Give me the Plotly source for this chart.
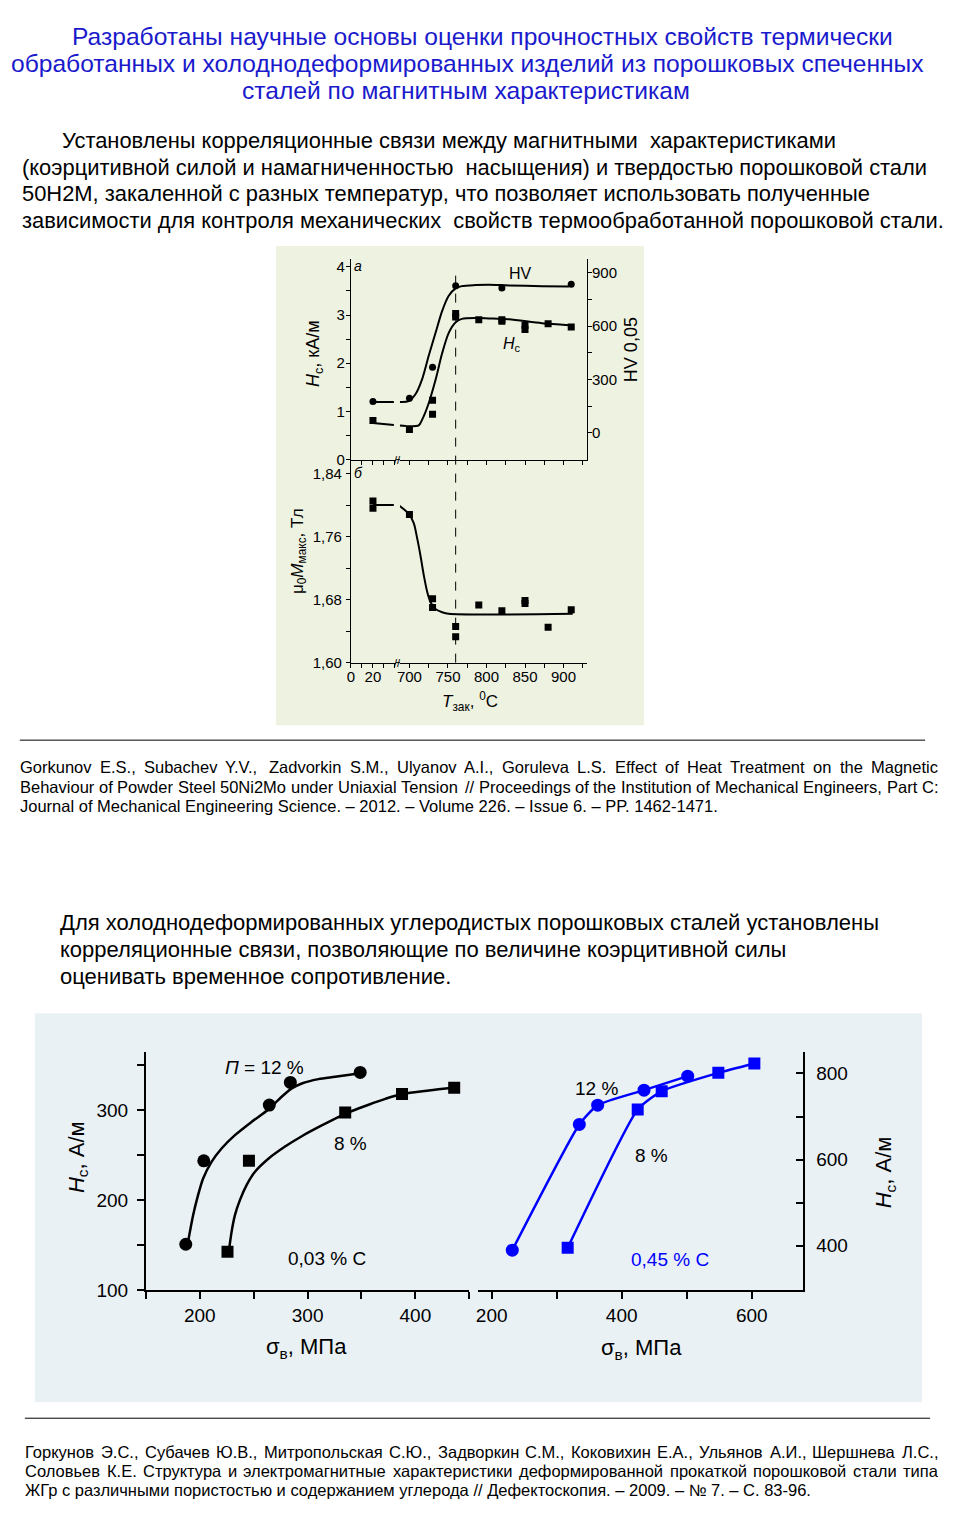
import plotly.graph_objects as go

# The page photo shows the figure offset by the body margin and slightly
# shrunk; page pixel p is mapped to figure pixels to compensate.
FW, FH = 948, 1519
SX, OX = 0.9955, 12.2
SY, OY = 0.992, 9.0
def X(p): return (p / SX - OX) / FW
def Y(p): return 1 - (p / SY - OY) / FH

FONT = "Liberation Sans, Arial, sans-serif"
BLUE = "#0000FF"

# ---------------- Chart a : Hc and HV vs quenching temperature ----------------
T_hv = [20, 700, 730, 760, 820, 910]
HV = [176, 195, 369, 827, 814, 836]
T_hc = [20, 700, 730, 730, 760, 760, 790, 820, 820, 850, 850, 880, 910]
HC = [0.81, 0.625, 1.23, 0.94, 3.03, 2.96, 2.90, 2.90, 2.87, 2.79, 2.70, 2.82, 2.75]
T_hv_fit = [20, 39, 687, 699, 708, 716.5, 725, 734, 742.5, 751, 760, 768, 786, 803, 829, 872, 907]
HV_fit = [174, 174, 174, 178, 218, 302, 433, 564, 686, 771, 812, 825, 831, 833, 829, 825, 823]
T_hc_fit = [20, 39, 687, 712, 716.5, 725, 734, 742.5, 751, 760, 768, 786, 803, 829, 872, 907]
HC_fit = [0.76, 0.72, 0.71, 0.71, 0.83, 1.17, 1.66, 2.21, 2.63, 2.85, 2.92, 2.94, 2.93, 2.91, 2.83, 2.79]

# ---------------- Chart b : saturation magnetization ----------------
T_m = [20, 20, 700, 730, 730, 760, 760, 790, 820, 850, 850, 880, 910]
M = [1.805, 1.796, 1.788, 1.681, 1.670, 1.646, 1.633, 1.673, 1.666, 1.679, 1.675, 1.645, 1.667]
T_m_fit = [20, 39, 687, 699, 705.6, 710, 714.3, 718.6, 723, 727.3, 733.8, 742.5, 751, 912]
M_fit = [1.800, 1.800, 1.799, 1.789, 1.777, 1.758, 1.736, 1.711, 1.690, 1.677, 1.668, 1.664, 1.662, 1.662]

T_low_ticks, T_low_labels, T_low_minor = [0, 20], ["0", "20"], [10, 30, 40]
T_high_ticks = [700, 750, 800, 850, 900]
T_high_labels = ["700", "750", "800", "850", "900"]
T_high_minor = [725, 775, 825, 875, 925]
HC_ticks, HC_labels, HC_minor = [0, 1, 2, 3, 4], ["0", "1", "2", "3", "4"], [0.5, 1.5, 2.5, 3.5]
HV_ticks, HV_labels, HV_minor = [0, 300, 600, 900], ["0", "300", "600", "900"], [150, 450, 750]
M_ticks = [1.60, 1.68, 1.76, 1.84]
M_labels = ["1,60", "1,68", "1,76", "1,84"]
M_minor = [1.64, 1.72, 1.80]

# ---------------- Bottom left : 0.03 % C ----------------
s12_c = [187, 203.7, 264.5, 284, 348.8]
h12_c = [151, 243.7, 305.6, 330.7, 341.9]
s8_c = [225.7, 245.6, 334.9, 387.6, 436]
h8_c = [142.6, 243.7, 297.4, 317.8, 324.8]
s12_c_fit = [189.1, 193.8, 198.4, 203.1, 210.9, 220.2, 232.6, 248.1, 263.6, 276, 285.3, 294.6, 310, 325.6, 347.3]
h12_c_fit = [153.7, 183.3, 205.6, 224.1, 242.6, 257.4, 272.2, 287, 300.7, 314.8, 324.1, 329.6, 334.4, 337, 340.7]
s8_c_fit = [227.3, 229.5, 232.6, 237.2, 243.4, 251.2, 263.6, 279.1, 294.6, 310, 325.6, 341.1, 356.6, 372.1, 387.6, 412.4, 436]
h8_c_fit = [146.3, 164.8, 183.3, 200, 216.7, 231.5, 246, 259.5, 271, 281, 290.5, 299, 306, 312.5, 317.8, 321.8, 324.8]

# ---------------- Bottom right : 0.45 % C ----------------
s12_45 = [231.7, 334.8, 363, 434.3, 501.5]
h12_45 = [390, 681.7, 726.5, 761.3, 793.8]
s8_45 = [316.9, 424.6, 461.5, 548.6, 604]
h8_45 = [395.4, 716.5, 758.9, 801.4, 823.2]

L_xticks, L_xlabels, L_xminor = [200, 300, 400], ["200", "300", "400"], [150, 250, 350, 450]
L_yticks, L_ylabels, L_yminor = [100, 200, 300], ["100", "200", "300"], [150, 250, 350]
R_xticks, R_xlabels, R_xminor = [200, 400, 600], ["200", "400", "600"], [300, 500]
R_yticks, R_ylabels, R_yminor = [400, 600, 800], ["400", "600", "800"], [500, 700]


def split(xs, ys, lim=100):
    lo = [(a, b) for a, b in zip(xs, ys) if a < lim]
    hi = [(a, b) for a, b in zip(xs, ys) if a >= lim]
    return ([a for a, _ in lo], [b for _, b in lo]), ([a for a, _ in hi], [b for _, b in hi])


fig = go.Figure()

def line_tr(x, y, xa, ya, color="black", width=2, shape="spline", smooth=0.8):
    fig.add_trace(go.Scatter(x=x, y=y, xaxis=xa, yaxis=ya, mode="lines",
                             line=dict(color=color, width=width, shape=shape, smoothing=smooth),
                             hoverinfo="skip", showlegend=False))

def mark_tr(x, y, xa, ya, symbol, size, color="black"):
    fig.add_trace(go.Scatter(x=x, y=y, xaxis=xa, yaxis=ya, mode="markers",
                             marker=dict(symbol=symbol, size=size, color=color, line=dict(width=0)),
                             showlegend=False))

# chart a
(lo, hi) = split(T_hv_fit, HV_fit)
line_tr(*lo, "x", "y2"); line_tr(*hi, "x2", "y2")
(lo, hi) = split(T_hc_fit, HC_fit)
line_tr(*lo, "x", "y"); line_tr(*hi, "x2", "y")
(lo, hi) = split(T_hv, HV)
mark_tr(*lo, "x", "y2", "circle", 7); mark_tr(*hi, "x2", "y2", "circle", 7)
(lo, hi) = split(T_hc, HC)
mark_tr(*lo, "x", "y", "square", 7); mark_tr(*hi, "x2", "y", "square", 7)
# chart b
(lo, hi) = split(T_m_fit, M_fit)
line_tr(*lo, "x3", "y3"); line_tr(*hi, "x4", "y3")
(lo, hi) = split(T_m, M)
mark_tr(*lo, "x3", "y3", "square", 7); mark_tr(*hi, "x4", "y3", "square", 7)

# bottom left
line_tr(s12_c_fit, h12_c_fit, "x5", "y5", width=2.5)
line_tr(s8_c_fit, h8_c_fit, "x5", "y5", width=2.5)
mark_tr(s12_c, h12_c, "x5", "y5", "circle", 13)
mark_tr(s8_c, h8_c, "x5", "y5", "square", 12)
# bottom right
line_tr(s12_45, h12_45, "x6", "y6", color=BLUE, width=2.5, smooth=0.5)
line_tr(s8_45, h8_45, "x6", "y6", color=BLUE, width=2.5, smooth=0.5)
mark_tr(s12_45, h12_45, "x6", "y6", "circle", 13, BLUE)
mark_tr(s8_45, h8_45, "x6", "y6", "square", 12, BLUE)


def axis(dom, rng, tv, tt, minor=None, size=15, lw=1, tl=4, ticks="outside", standoff=None, **kw):
    d = dict(domain=dom, range=rng, showline=True, linecolor="black", linewidth=lw,
             showgrid=False, zeroline=False, ticks=ticks, ticklen=tl, tickwidth=lw,
             tickcolor="black", tickmode="array", tickvals=tv, ticktext=tt,
             tickfont=dict(family=FONT, size=size, color="black"), fixedrange=True)
    if minor:
        d["minor"] = dict(tickmode="array", tickvals=minor, ticks=ticks, ticklen=tl,
                          tickwidth=lw, tickcolor="black", showgrid=False)
    if standoff is not None:
        d["ticklabelstandoff"] = standoff
    d.update(kw)
    return d

xa_lo = [X(351), X(396)]
xa_hi = [X(400), X(587)]
r_lo = [0, 40.9]
r_hi = [687.7, 930.5]

fig.update_layout(
    width=FW, height=FH, margin=dict(l=0, r=0, t=0, b=0),
    paper_bgcolor="white", plot_bgcolor="rgba(0,0,0,0)",
    font=dict(family=FONT, color="black"),
    xaxis=axis(xa_lo, r_lo, T_low_ticks, T_low_labels, T_low_minor, anchor="y", showticklabels=False),
    xaxis2=axis(xa_hi, r_hi, T_high_ticks, T_high_labels, T_high_minor, anchor="y", showticklabels=False),
    yaxis=axis([Y(459.5), Y(259)], [0, 4.16], HC_ticks, HC_labels, HC_minor, anchor="x", standoff=-2),
    yaxis2=axis([Y(459.5), Y(259)], [-150.7, 977], HV_ticks, HV_labels, HV_minor, anchor="x2",
                overlaying="y", side="right", standoff=-3),
    xaxis3=axis(xa_lo, r_lo, T_low_ticks, T_low_labels, T_low_minor, anchor="y3", standoff=-4),
    xaxis4=axis(xa_hi, r_hi, T_high_ticks, T_high_labels, T_high_minor, anchor="y3", standoff=-4),
    yaxis3=axis([Y(662.5), Y(460)], [1.60, 1.857], M_ticks, M_labels, M_minor, anchor="x3", standoff=1),
    xaxis5=axis([X(146), X(469.3)], [150, 450], L_xticks, L_xlabels, L_xminor, size=19, lw=2, tl=7,
                anchor="y5", standoff=0),
    yaxis5=axis([Y(1290), Y(1052.3)], [100, 364], L_yticks, L_ylabels, L_yminor, size=19, lw=2, tl=7,
                anchor="x5", standoff=5),
    xaxis6=axis([X(478.3), X(803.3)], [179.4, 679.4], R_xticks, R_xlabels, R_xminor, size=19, lw=2, tl=7,
                anchor="y6", standoff=0),
    yaxis6=axis([Y(1290), Y(1052.3)], [297, 848.7], R_yticks, R_ylabels, R_yminor, size=19, lw=2, tl=7,
                anchor="x6", side="right", ticks="inside", standoff=7),
)

# background panels and separators
shapes = [
    dict(type="rect", xref="paper", yref="paper", x0=X(276), x1=X(644), y0=Y(725), y1=Y(246),
         fillcolor="#EEF2E0", line=dict(width=0), layer="below"),
    dict(type="rect", xref="paper", yref="paper", x0=X(35), x1=X(922), y0=Y(1402), y1=Y(1013),
         fillcolor="#EAF1F5", line=dict(width=0), layer="below"),
    dict(type="line", xref="paper", yref="paper", x0=X(20), x1=X(925), y0=Y(740), y1=Y(740),
         line=dict(color="black", width=1)),
    dict(type="line", xref="paper", yref="paper", x0=X(25), x1=X(930), y0=Y(1418), y1=Y(1418),
         line=dict(color="black", width=1)),
    dict(type="line", xref="x2", yref="paper", x0=760, x1=760, y0=Y(662.5), y1=Y(271),
         line=dict(color="black", width=1, dash="dash")),
    dict(type="line", xref="paper", yref="paper", x0=X(396), x1=X(400), y0=Y(459.5), y1=Y(459.5),
         line=dict(color="black", width=1)),
    dict(type="line", xref="paper", yref="paper", x0=X(396), x1=X(400), y0=Y(662.5), y1=Y(662.5),
         line=dict(color="black", width=1)),
]
fig.update_layout(shapes=shapes)

ann = []
def txt(x, y, s, size, xanchor="left", color="black", angle=0, yanchor="middle"):
    ann.append(dict(x=X(x), y=Y(y), xref="paper", yref="paper", text=s, showarrow=False,
                    xanchor=xanchor, yanchor=yanchor, textangle=angle, borderpad=0, borderwidth=0,
                    font=dict(family=FONT, size=size, color=color)))

# approximate Arial advance widths (1/1000 em) used to justify reference lines
CW = {' ': 278, ',': 278, '.': 278, '/': 278, '-': 333, '–': 556, ':': 278, '№': 1073,
      'I': 278, 'J': 500, 'M': 833, 'W': 944, 'G': 778, 'O': 778, 'Q': 778, 'C': 722, 'D': 722,
      'H': 722, 'N': 722, 'R': 722, 'U': 722, 'F': 611, 'T': 611, 'Z': 611, 'L': 556,
      'f': 278, 't': 278, 'i': 222, 'j': 222, 'l': 222, 'r': 333, 'c': 500, 'k': 500, 's': 500,
      'v': 500, 'x': 500, 'y': 500, 'z': 500, 'm': 833, 'w': 722,
      'А': 667, 'Б': 656, 'В': 667, 'Г': 542, 'Д': 677, 'Е': 667, 'Ж': 923, 'З': 604, 'И': 719,
      'К': 583, 'Л': 656, 'М': 833, 'Н': 722, 'О': 778, 'П': 719, 'Р': 667, 'С': 722, 'Т': 611,
      'У': 635, 'Ф': 760, 'Х': 667, 'Ц': 740, 'Ч': 667, 'Ш': 917, 'Э': 719, 'Ю': 1010, 'Я': 722,
      'а': 556, 'б': 573, 'в': 531, 'г': 365, 'д': 583, 'е': 556, 'ж': 669, 'з': 458, 'и': 559,
      'й': 559, 'к': 438, 'л': 583, 'м': 688, 'н': 552, 'о': 556, 'п': 542, 'р': 556, 'с': 500,
      'т': 458, 'у': 500, 'ф': 823, 'х': 500, 'ц': 560, 'ч': 531, 'ш': 803, 'щ': 823, 'ъ': 583,
      'ы': 719, 'ь': 531, 'э': 521, 'ю': 802, 'я': 539}
def width(s, size):
    return sum(CW.get(ch, 556 if not ch.isupper() else 667) for ch in s) * size / 1000

def justify(x0, x1, y, s, size):
    words = s.split()
    ws = [width(w, size) for w in words]
    gap = (x1 - x0 - sum(ws)) / (len(words) - 1)
    x = x0
    for w, wd in zip(words, ws):
        txt(x, y, w, size)
        x += wd + gap

TB = "#1A1ACC"
txt(483, 36, "Разработаны научные основы оценки прочностных свойств термически", 24.6, "center", TB)
txt(468, 63, "обработанных и холоднодеформированных изделий из порошковых спеченных", 24.6, "center", TB)
txt(466, 90, "сталей по магнитным характеристикам", 24.6, "center", TB)

P1 = ["Установлены корреляционные связи между магнитными  характеристиками",
      "(коэрцитивной силой и намагниченностью  насыщения) и твердостью порошковой стали",
      "50Н2М, закаленной с разных температур, что позволяет использовать полученные",
      "зависимости для контроля механических  свойств термообработанной порошковой стали."]
txt(62, 140, P1[0], 21.9)
txt(22, 167, P1[1], 21.9)
txt(22, 193, P1[2], 21.9)
txt(22, 220, P1[3], 21.9)

R1 = ["Gorkunov E.S., Subachev Y.V., Zadvorkin S.M., Ulyanov A.I., Goruleva L.S. Effect of Heat Treatment on the Magnetic",
      "Behaviour of Powder Steel 50Ni2Mo under Uniaxial Tension // Proceedings of the Institution of Mechanical Engineers, Part C:",
      "Journal of Mechanical Engineering Science. – 2012. – Volume 226. – Issue 6. – PP. 1462-1471."]
justify(20, 938, 767, R1[0], 16.5)
justify(20, 938, 786.5, R1[1], 16.5)
txt(20, 806, R1[2], 16.5)

P2 = ["Для холоднодеформированных углеродистых порошковых сталей установлены",
      "корреляционные связи, позволяющие по величине коэрцитивной силы",
      "оценивать временное сопротивление."]
for i, s in enumerate(P2):
    txt(60, 922 + i * 27, s, 22.0)

R2 = ["Горкунов Э.С., Субачев Ю.В., Митропольская С.Ю., Задворкин С.М., Коковихин Е.А., Ульянов А.И., Шершнева Л.С.,",
      "Соловьев К.Е. Структура и электромагнитные характеристики деформированной прокаткой порошковой стали типа",
      "ЖГр с различными пористостью и содержанием углерода // Дефектоскопия. – 2009. – № 7. – С. 83-96."]
justify(25, 938, 1452, R2[0], 16.5)
justify(25, 938, 1471, R2[1], 16.5)
txt(25, 1490, R2[2], 16.5)

# chart a/b labels
txt(314, 353, "<i>H</i><sub>c</sub>, кА/м", 18, "center", angle=-90)
txt(631, 350, "HV 0,05", 18, "center", angle=-90)
txt(299, 551, "μ<sub>0</sub><i>M</i><sub>макс</sub>, Тл", 17, "center", angle=-90)
txt(470, 701, "<i>T</i><sub>зак</sub>, <sup>0</sup>C", 17, "center")
txt(354, 266, "<i>а</i>", 14)
txt(354, 473, "<i>б</i>", 14)
txt(521, 273, "HV", 16, "center")
txt(512, 344, "<i>H</i><sub>c</sub>", 16, "center")
txt(397.5, 459.5, "//", 11, "center")
txt(397.5, 662.5, "//", 11, "center")

# bottom chart labels
txt(78, 1157, "<i>H</i><sub>c</sub>, А/м", 22, "center", angle=-90)
txt(885, 1172, "<i>H</i><sub>c</sub>, А/м", 22, "center", angle=-90)
txt(307, 1348, "σ<sub>в</sub>, МПа", 22, "center")
txt(641, 1349, "σ<sub>в</sub>, МПа", 22, "center")
txt(265, 1067, "<i>П</i> = 12 %", 19, "center")
txt(351, 1143, "8 %", 19, "center")
txt(327, 1258, "0,03 % C", 19, "center")
txt(596, 1088, "12 %", 19, "center")
txt(651, 1155, "8 %", 19, "center")
txt(670, 1259, "0,45 % C", 19, "center", color=BLUE)

fig.update_layout(annotations=ann)
fig.write_html("out.html")
